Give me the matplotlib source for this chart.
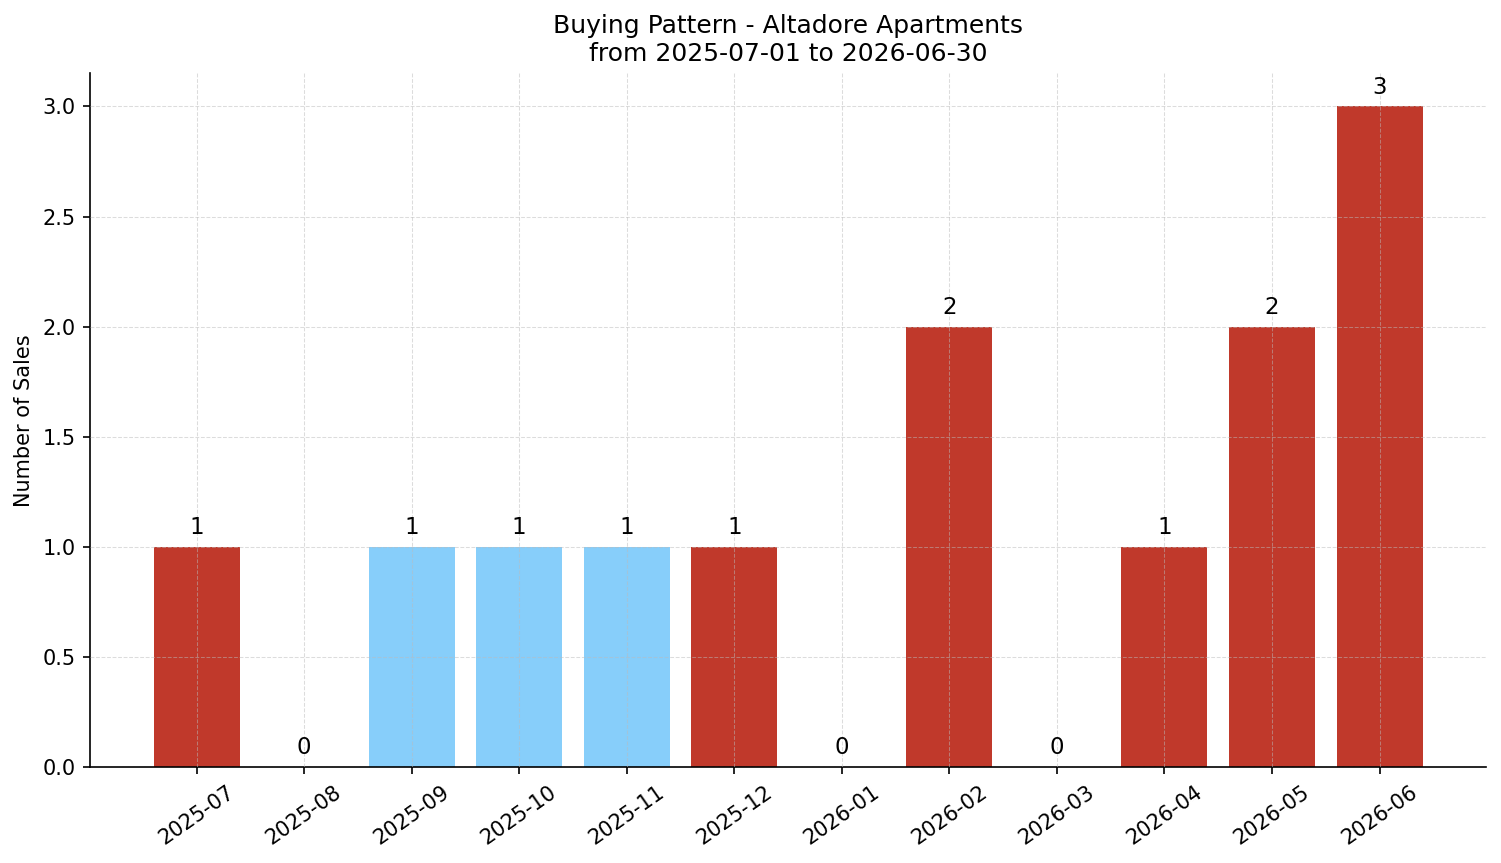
import numpy as np
import matplotlib
matplotlib.use('Agg')
import matplotlib.pyplot as plt

# data
months = ['2025-07', '2025-08', '2025-09', '2025-10', '2025-11', '2025-12',
          '2026-01', '2026-02', '2026-03', '2026-04', '2026-05', '2026-06']
sales = [1, 0, 1, 1, 1, 1, 0, 2, 0, 1, 2, 3]
highlight = [False, False, True, True, True, False,
             False, False, False, False, False, False]

red = '#c0392b'
blue = '#87cefa'
colors = [blue if h else red for h in highlight]

fig = plt.figure(figsize=(1501 / 150, 863 / 150), dpi=150)
ax = fig.add_axes([0.06, 0.111, 0.93, 0.804])

x = np.arange(len(months))
bars = ax.bar(x, sales, color=colors, width=0.8)

# 棒の上に値
for xi, v in zip(x, sales):
    ax.text(xi, v + 0.035, str(v), ha='center', va='bottom', fontsize=11)

ax.set_xticks(x)
ax.set_xticklabels(months, rotation=35, fontsize=10)
ax.tick_params(axis='y', labelsize=10)
ax.set_ylabel('Number of Sales', fontsize=10)
ax.set_title('Buying Pattern - Altadore Apartments\nfrom 2025-07-01 to 2026-06-30', fontsize=12)
ax.set_ylim(0, 3.15)

ax.spines['top'].set_visible(False)
ax.spines['right'].set_visible(False)
ax.grid(True, linestyle='--', alpha=0.5, color='#bbbbbb', linewidth=0.5)
ax.set_axisbelow(False)

fig.savefig('out.png', dpi=150)
